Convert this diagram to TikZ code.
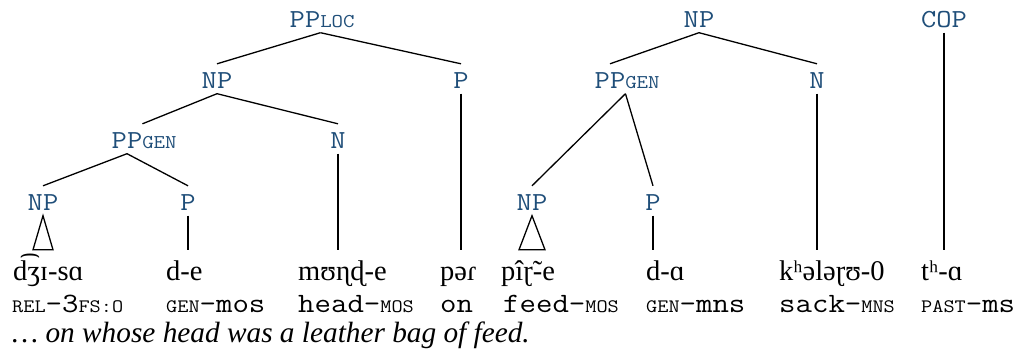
\documentclass[tikz,border=0pt]{standalone}
\usepackage{fontspec}
\setmainfont{Liberation Serif}
% typewriter face with the proportions of a wide monospaced slab font
\newfontfamily\glossfont{Latin Modern Mono}[FakeStretch=1.14]
\usetikzlibrary{calc}
\definecolor{catblue}{RGB}{31,78,121}
% small capitals for the mono font, faked by scaled-down upper case
\newcommand\glsc[1]{{\fontsize{19}{20}\selectfont #1}}
\newcommand\catsc[1]{{\fontsize{19.5}{20}\selectfont #1}}
\begin{document}
\begin{tikzpicture}[x=1pt,y=-1pt,
  cat/.style={anchor=base,inner sep=0pt,text height=24pt,text depth=5.5pt,
    text=catblue,font=\glossfont\fontsize{26}{28}\selectfont},
  word/.style={anchor=base west,inner sep=0pt,text height=30pt,
    font=\fontsize{28.5}{30}\selectfont},
  gloss/.style={anchor=base west,inner sep=0pt,
    font=\glossfont\fontsize{28}{30}\selectfont},
  branch/.style={line width=1.3pt}]
\path[use as bounding box] (0,0) rectangle (1025,354);

% words of the sentence
\node[word] (w1) at (13,280) {d͡ʒɪ-sɑ};
\node[word] (w2) at (166,280) {d-e};
\node[word] (w3) at (298,280) {mʊɳɖ-e};
\node[word] (w4) at (440,280) {pəɾ};
\node[word] (w5) at (501,280) {pîɽ̃-e};
\node[word] (w6) at (646,280) {d-ɑ};
\node[word] (w7) at (779,280) {kʰələɽʊ-0};
\node[word] (w8) at (921,280) {tʰ-ɑ};

% interlinear glosses
\node[gloss] (g1) at (12,312) {\glsc{REL}-3\glsc{FS:O}};
\node[gloss] (g2) at (166,312) {\glsc{GEN}-mos};
\node[gloss] (g3) at (298,312) {head-\glsc{MOS}};
\node[gloss] (g4) at (440,312) {on};
\node[gloss] (g5) at (503,312) {feed-\glsc{MOS}};
\node[gloss] (g6) at (646,312) {\glsc{GEN}-mns};
\node[gloss] (g7) at (779,312) {sack-\glsc{MNS}};
\node[gloss] (g8) at (921,312) {\glsc{PAST}-ms};

% free translation
\node[anchor=base west,inner sep=0pt,font=\itshape\fontsize{29.3}{31}\selectfont]
  (tr) at (12,342) {… on whose head was a leather bag of feed.};

% first tree: locative PP
\node[cat] (pploc) at (305,27) {PP\rlap{\catsc{LOC}}};
\node[cat] (np2) at (217,88) {NP};
\node[cat] (p2) at (461,88) {P};
\node[cat] (ppgl) at (127,148) {PP\rlap{\catsc{GEN}}};
\node[cat] (n3) at (338,148) {N};
\node[cat] (np4) at (43,210) {NP};
\node[cat] (p4) at (188,210) {P};

% second tree: NP with genitive PP
\node[cat] (npr) at (699,27) {NP};
\node[cat] (ppgr) at (610,88) {PP\rlap{\catsc{GEN}}};
\node[cat] (nr) at (817,88) {N};
\node[cat] (npr4) at (532,210) {NP};
\node[cat] (pr4) at (653,210) {P};

% copula
\node[cat] (cop) at (944,27) {COP};

% branches of the first tree
\draw[branch] (pploc.south east) -- (np2.north);
\draw[branch] (pploc.south east) -- (p2.north);
\draw[branch] (p2.south) -- (p2.south |- w4.north);
\draw[branch] (np2.south) -- (ppgl.north east);
\draw[branch] (np2.south) -- (n3.north);
\draw[branch] (n3.south) -- (n3.south |- w3.north);
\draw[branch] (ppgl.south) -- (np4.north);
\draw[branch] (ppgl.south) -- (p4.north);
\draw[branch] (p4.south) -- (p4.south |- w2.north);
\draw[branch] (np4.south) -- ($(np4.south |- w1.north)+(-10,0)$)
  -- ($(np4.south |- w1.north)+(10,0)$) -- cycle;

% branches of the second tree
\draw[branch] (npr.south) -- (ppgr.north);
\draw[branch] (npr.south) -- (nr.north);
\draw[branch] (nr.south) -- (nr.south |- w7.north);
\draw[branch] (ppgr.south east) -- (npr4.north);
\draw[branch] (ppgr.south east) -- (pr4.north);
\draw[branch] (pr4.south) -- (pr4.south |- w6.north);
\draw[branch] (npr4.south) -- ($(npr4.south |- w5.north)+(-13,0)$)
  -- ($(npr4.south |- w5.north)+(13,0)$) -- cycle;

% copula branch
\draw[branch] (cop.south) -- (cop.south |- w8.north);
\end{tikzpicture}
\end{document}
